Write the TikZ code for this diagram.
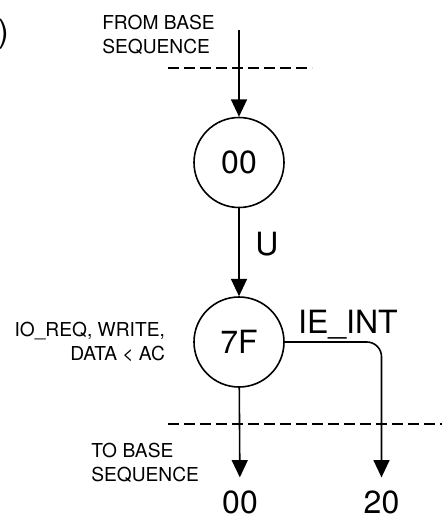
\documentclass[tikz,border=0pt]{standalone}
\usepackage{fontspec}
\setmainfont{TeX Gyre Heros}
\usetikzlibrary{positioning,arrows.meta}

\begin{document}
\begin{tikzpicture}[
    x=0.75pt, y=-0.75pt,
    state/.style={circle, draw=black, line width=1.2pt, minimum size=67.5pt, inner sep=0pt, font=\fontsize{24}{24}\selectfont},
    small/.style={inner sep=0pt, font=\fontsize{14.4}{18}\selectfont},
    big/.style={inner sep=0pt, font=\fontsize{24}{24}\selectfont},
    arrow/.style={-{Triangle[length=13pt,width=12pt]}, line width=1.2pt},
    exit/.style={arrow, shorten >=9.5pt},
    cut/.style={dash pattern=on 8.5pt off 3.5pt, line width=1.2pt}
]
\useasboundingbox (0,0) rectangle (442,525);

% Leftover of the caption
\node[big, anchor=east] (paren) at (9,34) {)};

% States
\node[state] (s00) at (239,162.5) {00};
\node[state] (s7F) at (239,342) {7F};

% Entry and exit points
\coordinate (entry) at (239,30);
\node[big, anchor=base] (n00) at (240,513) {00};
\node[big, anchor=base] (n20) at (381.5,513) {20};

% Labels
\node[small, align=left, anchor=north west] (frombase) at (102,15) {FROM BASE\\SEQUENCE};
\node[small, align=right, left=21pt of s7F] (cond) {IO\_REQ, WRITE,\\DATA < AC};
\node[small, align=left, anchor=west] (tobase) at (91,463) {TO BASE\\SEQUENCE};
\node[big, anchor=base] (ulabel) at (267,255) {U};
\node[big, anchor=base] (ieint) at (348,333) {IE\_INT};

% Cut lines
\coordinate (cut1l) at (168,68);
\coordinate (cut1r) at (312,68);
\coordinate (cut2l) at (168,424);
\coordinate (cut2r) at (442,424);
\draw[cut] (cut1l) -- (cut1r);
\draw[cut] (cut2l) -- (cut2r);

% Arrows
\draw[arrow] (entry) -- (s00);
\draw[arrow] (s00) -- (s7F);
\draw[exit] (s7F) -- (n00);
\draw[exit, rounded corners=11pt] (s7F.east) -| (n20.north);

\end{tikzpicture}
\end{document}
